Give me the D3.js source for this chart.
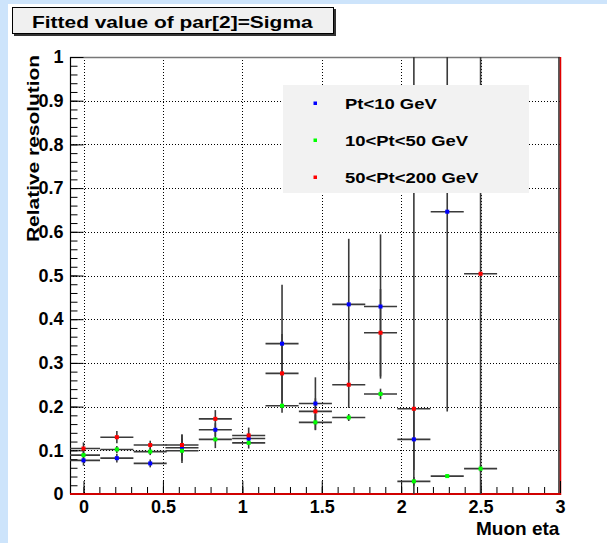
<!DOCTYPE html>
<html>
<head>
<meta charset="utf-8">
<script src="https://cdn.jsdelivr.net/npm/d3@7"></script>
<style>
  body { margin: 0; background: #cde4fb; }
  text { font-family: "Liberation Sans", Arial, sans-serif; font-weight: bold; }
</style>
</head>
<body>
<div id="chart"></div>
<script>
// Bin centres in muon eta
const etaBins = [0, 0.21, 0.42, 0.62, 0.83, 1.04, 1.25, 1.46, 1.67, 1.87, 2.08, 2.29, 2.5];
const etaHalfWidth = 0.104;

// Fitted sigma (relative resolution) per Pt range, with errors
const ptLow = [0.077, 0.082, 0.070, 0.106, 0.147, 0.127, 0.344, 0.207, 0.434, 0.429, 0.125, 0.646, null];
const ptLowErr = [0.012, 0.010, 0.009, 0.030, 0.015, 0.012, 0.135, 0.060, 0.150, 0.165, 0.070, 0.457, null];
const ptMid = [0.089, 0.102, 0.097, 0.099, 0.125, 0.117, 0.202, 0.164, 0.175, 0.229, 0.029, 0.041, 0.058];
const ptMidErr = [0.010, 0.008, 0.008, 0.028, 0.020, 0.013, 0.004, 0.018, 0.008, 0.012, 0.010, 0.004, 0.008];
const ptHigh = [0.104, 0.130, 0.112, 0.112, 0.172, 0.134, 0.276, 0.189, 0.250, 0.369, 0.195, null, 0.504];
const ptHighErr = [0.014, 0.014, 0.010, 0.024, 0.020, 0.018, 0.090, 0.030, 0.053, 0.100, 0.850, null, 0.560];

const seriesNames = ["Pt<10 GeV", "10<Pt<50 GeV", "50<Pt<200 GeV"];
const seriesColors = ["#0000ff", "#00ff00", "#ff0000"];

const xTicks = [0, 0.5, 1, 1.5, 2, 2.5, 3];
const yTicks = [0, 0.1, 0.2, 0.3, 0.4, 0.5, 0.6, 0.7, 0.8, 0.9, 1];

const W = 607, H = 543;
const frame = { left: 70, right: 560, top: 57, bottom: 494 };
const stretch = 1.23; // ROOT's Helvetica renders wider than Arial

const svg = d3.select("#chart").append("svg")
  .attr("width", W)
  .attr("height", H);

// canvas
svg.append("rect").attr("width", W).attr("height", H).attr("fill", "#cde4fb");
svg.append("rect").attr("x", 8).attr("y", 4).attr("width", W - 8).attr("height", H - 4).attr("fill", "#ffffff");

const x = d3.scaleLinear().domain([-0.085, 3]).range([frame.left, frame.right]);
const y = d3.scaleLinear().domain([0, 1]).range([frame.bottom, frame.top]);

function widen(sel, f) {
  sel.each(function() {
    const len = this.getComputedTextLength();
    d3.select(this).attr("textLength", len * f).attr("lengthAdjust", "spacingAndGlyphs");
  });
}

// title box
svg.append("rect").attr("x", 14).attr("y", 9).attr("width", 322).attr("height", 27).attr("fill", "#333");
svg.append("rect").attr("x", 12.5).attr("y", 7.5).attr("width", 321).attr("height", 26)
  .attr("fill", "#f0f0f0").attr("stroke", "#000").attr("stroke-width", 1);
svg.append("text")
  .attr("x", 32).attr("y", 28)
  .style("font-size", "17px")
  .text("Fitted value of par[2]=Sigma")
  .call(widen, stretch);

// grid
const grid = svg.append("g").attr("stroke", "#000").attr("stroke-width", 1).attr("stroke-dasharray", "1,2");
grid.selectAll(".gx")
  .data(xTicks.filter(d => d < 3))
  .enter().append("line")
  .attr("x1", d => Math.round(x(d)) + 0.5).attr("x2", d => Math.round(x(d)) + 0.5)
  .attr("y1", frame.top).attr("y2", frame.bottom);
grid.selectAll(".gy")
  .data(yTicks.filter(d => d > 0 && d < 1))
  .enter().append("line")
  .attr("y1", d => Math.round(y(d)) + 0.5).attr("y2", d => Math.round(y(d)) + 0.5)
  .attr("x1", frame.left).attr("x2", frame.right);

// frame
svg.append("line").attr("x1", frame.left).attr("x2", frame.right).attr("y1", frame.top + 0.5).attr("y2", frame.top + 0.5)
  .attr("stroke", "#777").attr("stroke-width", 1.5);
svg.append("line").attr("x1", frame.right - 1).attr("x2", frame.right - 1).attr("y1", frame.top).attr("y2", frame.bottom)
  .attr("stroke", "#222").attr("stroke-width", 1.5);
svg.append("line").attr("x1", frame.right + 0.5).attr("x2", frame.right + 0.5).attr("y1", frame.top).attr("y2", frame.bottom + 1)
  .attr("stroke", "#e00000").attr("stroke-width", 1.5);

// axes (ROOT style: ticks inward)
const yAxis = d3.axisLeft(y).tickValues(yTicks).tickSize(-13).tickPadding(7).tickFormat(d3.format("~g"));
const yMinor = d3.axisLeft(y).tickValues(d3.range(0, 1.0001, 0.02)).tickSize(-7).tickFormat("");
const xAxis = d3.axisBottom(x).tickValues(xTicks).tickSize(-13).tickPadding(6).tickFormat(d3.format("~g"));
const xMinor = d3.axisBottom(x).tickValues(d3.range(0, 3.0001, 0.1)).tickSize(-7).tickFormat("");

function styleAxis(g) {
  g.select(".domain").remove();
  g.selectAll("line").attr("stroke", "#000").attr("stroke-width", 1);
  g.selectAll("text").attr("fill", "#000").style("font-size", "18px").style("font-family", null);
}

svg.append("g").attr("transform", `translate(${frame.left + 0.5},0)`).call(yMinor).call(styleAxis);
svg.append("g").attr("transform", `translate(${frame.left + 0.5},0)`).call(yAxis).call(styleAxis);
svg.append("g").attr("transform", `translate(0,${frame.bottom})`).call(xMinor).call(styleAxis);
svg.append("g").attr("transform", `translate(0,${frame.bottom})`).call(xAxis).call(styleAxis);

svg.append("line").attr("x1", frame.left + 0.5).attr("x2", frame.left + 0.5).attr("y1", frame.top).attr("y2", frame.bottom)
  .attr("stroke", "#000").attr("stroke-width", 1.2);
svg.append("line").attr("x1", frame.left).attr("x2", frame.right + 1).attr("y1", frame.bottom).attr("y2", frame.bottom)
  .attr("stroke", "#d00000").attr("stroke-width", 2);

// axis titles
svg.append("text")
  .attr("x", 476).attr("y", 535)
  .style("font-size", "19px")
  .text("Muon eta");
svg.append("text")
  .attr("transform", "translate(39,242) rotate(-90)")
  .style("font-size", "17px")
  .text("Relative resolution")
  .call(widen, stretch);

// data with error bars
svg.append("defs").append("clipPath").attr("id", "clip")
  .append("rect").attr("x", frame.left).attr("y", frame.top)
  .attr("width", frame.right - frame.left).attr("height", frame.bottom - frame.top);

const series = [
  { vals: ptLow, errs: ptLowErr },
  { vals: ptMid, errs: ptMidErr },
  { vals: ptHigh, errs: ptHighErr }
].map((s, i) => ({
  color: seriesColors[i],
  points: etaBins.map((eta, j) => ({ eta, v: s.vals[j], e: s.errs[j] })).filter(p => p.v !== null)
}));

const plot = svg.append("g").attr("clip-path", "url(#clip)");

series.forEach(s => {
  const g = plot.append("g");
  g.selectAll(".ex")
    .data(s.points).enter().append("line")
    .attr("x1", d => x(d.eta - etaHalfWidth)).attr("x2", d => x(d.eta + etaHalfWidth))
    .attr("y1", d => y(d.v)).attr("y2", d => y(d.v))
    .attr("stroke", "#3a3a3a").attr("stroke-width", 1.6);
  g.selectAll(".ey")
    .data(s.points).enter().append("line")
    .attr("x1", d => x(d.eta)).attr("x2", d => x(d.eta))
    .attr("y1", d => y(d.v - d.e)).attr("y2", d => y(d.v + d.e))
    .attr("stroke", "#3a3a3a").attr("stroke-width", 1.6);
});
series.forEach(s => {
  plot.append("g").selectAll("rect")
    .data(s.points).enter().append("rect")
    .attr("x", d => x(d.eta) - 2).attr("y", d => y(d.v) - 2)
    .attr("width", 4).attr("height", 4)
    .attr("fill", s.color);
});

// legend
const legend = svg.append("g").attr("transform", "translate(283,85)");
legend.append("rect").attr("width", 246).attr("height", 108).attr("fill", "#f2f2f2");
seriesNames.forEach((name, i) => {
  legend.append("rect")
    .attr("x", 30.5).attr("y", 16.5 + i * 37)
    .attr("width", 3.5).attr("height", 3.5)
    .attr("fill", seriesColors[i]);
  legend.append("text")
    .attr("x", 62).attr("y", 24 + i * 37)
    .style("font-size", "15px")
    .text(name)
    .call(widen, stretch);
});
</script>
</body>
</html>
